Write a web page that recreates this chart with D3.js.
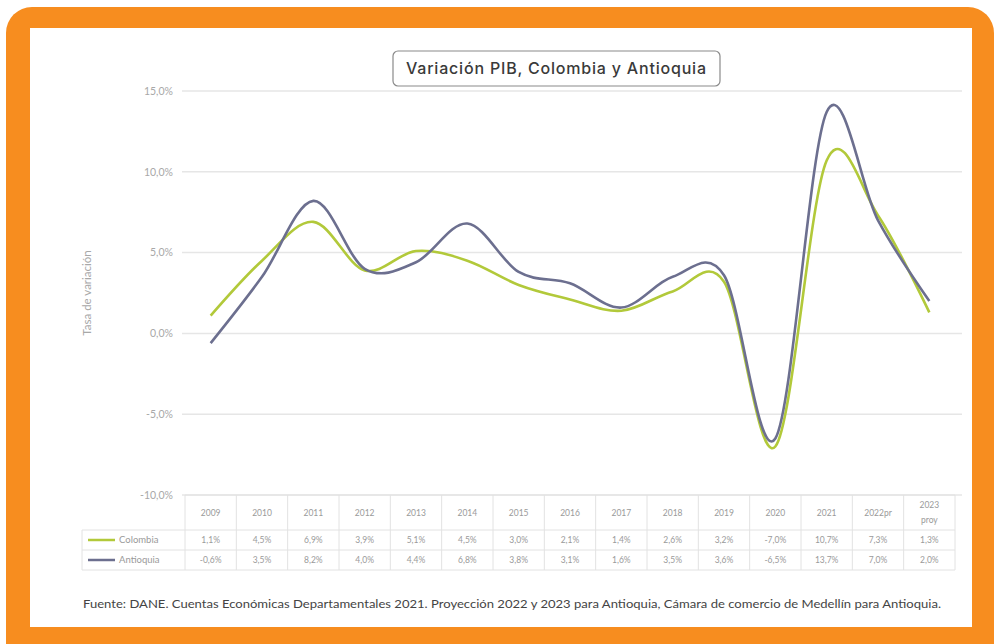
<!DOCTYPE html>
<html>
<head>
<meta charset="utf-8">
<script src="https://cdn.jsdelivr.net/npm/d3@7"></script>
<style>
  html, body { margin: 0; padding: 0; background: #fff; }
  svg { display: block; font-family: Lato, 'Open Sans', sans-serif; }
</style>
</head>
<body>
<div id="app"></div>
<script>
const categories = ['2009', '2010', '2011', '2012', '2013', '2014', '2015', '2016', '2017', '2018', '2019', '2020', '2021', '2022pr', '2023 proy']
const colombia = [1.1, 4.5, 6.9, 3.9, 5.1, 4.5, 3.0, 2.1, 1.4, 2.6, 3.2, -7.0, 10.7, 7.3, 1.3]
const antioquia = [-0.6, 3.5, 8.2, 4.0, 4.4, 6.8, 3.8, 3.1, 1.6, 3.5, 3.6, -6.5, 13.7, 7.0, 2.0]
const seriesNames = ['Colombia', 'Antioquia']
const yTicks = [-10, -5, 0, 5, 10, 15]

const colors = { Colombia: '#b2c93a', Antioquia: '#6c6f8f' }
const W = 994, H = 644

const svg = d3.select('#app')
  .append('svg')
  .attr('width', W)
  .attr('height', H)

// marco naranja
svg.append('rect')
  .attr('x', 6).attr('y', 7)
  .attr('width', 988).attr('height', 700)
  .attr('rx', 26)
  .attr('fill', '#f78d1f')
svg.append('rect')
  .attr('x', 30).attr('y', 28)
  .attr('width', 942).attr('height', 599)
  .attr('fill', '#fff')

// formato con coma decimal y guion simple
const fmt = v => d3.format('.1f')(v).replace('.', ',').replace('−', '-') + '%'

const x = d3.scaleBand()
  .domain(categories)
  .range([185, 955])
const y = d3.scaleLinear()
  .domain([-10, 15])
  .range([495, 91])
const cx = c => x(c) + x.bandwidth() / 2

// lineas de cuadricula
svg.append('g')
  .selectAll('line')
  .data(yTicks)
  .enter()
  .append('line')
  .attr('x1', 182)
  .attr('x2', 962)
  .attr('y1', d => y(d))
  .attr('y2', d => y(d))
  .attr('stroke', '#e6e6e6')
  .attr('stroke-width', 1.5)

// eje y
const yAxis = d3.axisLeft(y)
  .tickValues(yTicks)
  .tickSize(0)
  .tickPadding(0)
  .tickFormat(fmt)
const gy = svg.append('g')
  .attr('transform', 'translate(173,0)')
  .call(yAxis)
gy.select('.domain').remove()
gy.selectAll('text')
  .attr('fill', '#a8a8a8')
  .attr('font-size', 10.5)
  .attr('font-family', 'Lato, sans-serif')

svg.append('text')
  .attr('transform', 'translate(91,293) rotate(-90)')
  .attr('text-anchor', 'middle')
  .attr('fill', '#a8a8a8')
  .attr('font-size', 11.5)
  .text('Tasa de variación')

// lineas suavizadas
const line = d3.line()
  .x((d, i) => cx(categories[i]))
  .y(d => y(d))
  .curve(d3.curveCardinal.tension(0))
const series = [colombia, antioquia]
svg.append('g')
  .selectAll('path')
  .data(series)
  .enter()
  .append('path')
  .attr('d', d => line(d))
  .attr('fill', 'none')
  .attr('stroke', (d, i) => colors[seriesNames[i]])
  .attr('stroke-width', 2.6)
  .attr('stroke-linejoin', 'round')

// titulo
svg.append('rect')
  .attr('x', 393).attr('y', 51)
  .attr('width', 327).attr('height', 35)
  .attr('rx', 5)
  .attr('fill', '#fff')
  .attr('stroke', '#8a8a8a')
  .attr('stroke-width', 1.2)
svg.append('text')
  .attr('x', 556).attr('y', 74)
  .attr('text-anchor', 'middle')
  .attr('fill', '#3a3a3a')
  .attr('font-size', 16)
  .attr('font-weight', 500)
  .attr('font-family', 'Inter, sans-serif')
  .attr('textLength', 300)
  .attr('lengthAdjust', 'spacing')
  .text('Variación PIB, Colombia y Antioquia')

// tabla de datos
const rows = { top: 495, head: 530, r1: 550, r2: 570 }
const tb = svg.append('g')
const borde = '#e2e2e2'
tb.selectAll('line.v')
  .data(d3.range(categories.length + 1))
  .enter()
  .append('line')
  .attr('x1', i => 185 + i * x.step())
  .attr('x2', i => 185 + i * x.step())
  .attr('y1', rows.top)
  .attr('y2', rows.r2)
  .attr('stroke', borde)
tb.selectAll('line.h')
  .data([rows.top, rows.head, rows.r1, rows.r2])
  .enter()
  .append('line')
  .attr('x1', (d, i) => i === 0 ? 185 : 82)
  .attr('x2', 955)
  .attr('y1', d => d)
  .attr('y2', d => d)
  .attr('stroke', borde)
tb.append('line')
  .attr('x1', 82).attr('x2', 82)
  .attr('y1', rows.head).attr('y2', rows.r2)
  .attr('stroke', borde)

tb.selectAll('text.cat')
  .data(categories)
  .enter()
  .append('text')
  .attr('text-anchor', 'middle')
  .attr('fill', '#9a9a9a')
  .attr('font-size', 8.5)
  .each(function (d) {
    const parts = d.split(' ')
    const t = d3.select(this)
    parts.forEach((p, k) => {
      t.append('tspan')
        .attr('x', cx(d))
        .attr('y', parts.length > 1 ? 508 + k * 15 : 516)
        .text(p)
    })
  })

series.forEach((vals, s) => {
  const yy = s === 0 ? 543 : 563
  tb.selectAll('text.v' + s)
    .data(vals)
    .enter()
    .append('text')
    .attr('x', (d, i) => cx(categories[i]))
    .attr('y', yy)
    .attr('text-anchor', 'middle')
    .attr('fill', '#9a9a9a')
    .attr('font-size', 8.5)
    .text(d => fmt(d))
  tb.append('line')
    .attr('x1', 88).attr('x2', 115)
    .attr('y1', yy - 3).attr('y2', yy - 3)
    .attr('stroke', colors[seriesNames[s]])
    .attr('stroke-width', 2.5)
  tb.append('text')
    .attr('x', 119).attr('y', yy)
    .attr('fill', '#9a9a9a')
    .attr('font-size', 9.5)
    .text(seriesNames[s])
})

// fuente
svg.append('text')
  .attr('x', 83).attr('y', 608)
  .attr('fill', '#444')
  .attr('font-size', 11.5)
  .attr('textLength', 858)
  .attr('lengthAdjust', 'spacingAndGlyphs')
  .text('Fuente: DANE. Cuentas Económicas Departamentales 2021. Proyección 2022 y 2023 para Antioquia, Cámara de comercio de Medellín para Antioquia.')
</script>
</body>
</html>
